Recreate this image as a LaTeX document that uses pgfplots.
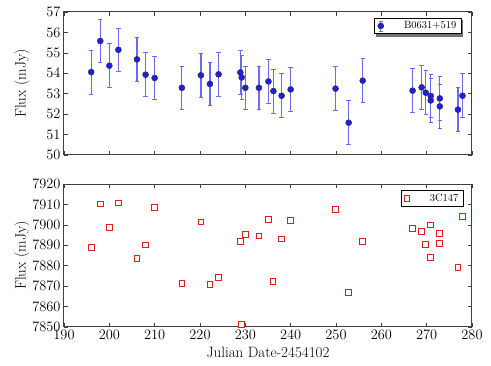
\documentclass[border=0pt]{standalone}
\usepackage{pgfplots}
\pgfplotsset{compat=1.18}
\definecolor{ptblue}{HTML}{1E1EEB}
\definecolor{barblue}{HTML}{6A6AF5}
\definecolor{sqred}{HTML}{E11E1E}

\pgfplotstableread{
x y
196.0 54.06
198.0 55.58
200.0 54.37
202.0 55.15
206.1 54.68
208.0 53.93
210.0 53.77
216.0 53.29
220.2 53.90
222.2 53.48
224.1 53.95
228.9 54.04
229.2 53.80
230.0 53.29
233.0 53.29
235.1 53.60
236.2 53.13
238.0 52.90
240.0 53.21
249.9 53.25
252.8 51.58
255.9 53.64
266.9 53.15
268.9 53.31
269.8 53.05
270.9 52.89
270.9 52.67
272.9 52.77
272.9 52.38
276.9 52.22
277.9 52.90
}\srcA

\pgfplotstableread{
x y
196.0 7888.9
198.0 7910.2
200.0 7898.8
202.0 7910.7
206.1 7883.7
208.0 7890.2
210.0 7908.6
216.0 7871.5
220.2 7901.4
222.2 7871.0
224.1 7874.1
228.9 7892.0
229.2 7851.3
230.0 7895.4
233.0 7894.6
235.1 7902.6
236.1 7872.3
238.0 7893.1
240.0 7902.3
249.9 7907.5
252.8 7867.1
255.9 7892.0
266.9 7898.4
268.9 7896.6
269.8 7890.5
270.9 7900.0
270.9 7884.0
272.9 7895.6
272.9 7891.0
276.9 7879.3
277.9 7904.0
}\srcB

\pgfplotsset{
  panel/.style={
    scale only axis,
    width=408pt, height=143pt,
    xmin=190, xmax=280,
    xtick={190,200,...,280},
    tick align=inside,
    axis line style={black!75, line width=1pt},
    major tick length=4pt,
    tick style={black!75, line width=0.6pt},
    ticklabel style={font=\fontsize{14.5}{16}\selectfont},
    every axis y label/.style={at={(axis description cs:-0.103,0.5)}, rotate=90, anchor=center,
      font=\fontsize{15}{17}\selectfont},
    legend style={font=\fontsize{10.5}{12}\selectfont, draw=black, line width=0.8pt, fill=white,
      inner xsep=3pt, inner ysep=1.5pt, row sep=0pt},
    legend cell align=left,
    clip=false,
  },
}

\begin{document}
\begin{tikzpicture}
\begin{axis}[panel,
  at={(0,0)}, anchor=south west,
  ymin=50, ymax=57,
  ytick={50,51,...,57},
  xticklabels={},
  ylabel={Flux (mJy)},
  legend style={at={(axis description cs:0.975,0.96)}, anchor=north east},
]
\fill[black!55] (axis description cs:0.7645,0.825) rectangle (axis description cs:0.979,0.947);
% error bars alone
\addplot[forget plot, draw=none, mark=none, barblue,
  error bars/.cd, y dir=both, y fixed=1.07,
  error bar style={draw=barblue, line width=1.2pt, solid},
  error mark options={draw=barblue, rotate=90, mark size=2.2pt, line width=0.8pt}]
  table[x=x, y=y] {\srcA};
\addplot[only marks, mark=*, mark size=3pt, ptblue,
  mark options={fill=ptblue, draw=black!80, line width=0.5pt},
  legend image code/.code={
    \draw[barblue, line width=1.1pt] (0.3cm,-5pt) -- (0.3cm,5pt);
    \draw[barblue, line width=0.8pt] (0.3cm-2.2pt,-5pt) -- (0.3cm+2.2pt,-5pt)
      (0.3cm-2.2pt,5pt) -- (0.3cm+2.2pt,5pt);
    \filldraw[fill=ptblue, draw=black!80, line width=0.5pt] (0.3cm,0) circle (3pt);
  }]
  table[x=x, y=y] {\srcA};
\addlegendentry{\hspace{18pt}B0631+519}
\end{axis}

\begin{axis}[panel,
  at={(0,-172pt)}, anchor=south west,
  ymin=7850, ymax=7920,
  ytick={7850,7860,...,7920},
  yticklabel style={/pgf/number format/set thousands separator={}},
  ylabel={Flux (mJy)},
  xlabel={Julian Date-2454102},
  every axis x label/.style={at={(axis description cs:0.5,-0.175)}, anchor=center,
    font=\fontsize{15}{17}\selectfont},
  legend style={at={(axis description cs:0.98,0.96)}, anchor=north east},
]
\addplot[only marks, mark=square*, mark size=2.9pt, sqred,
  mark options={draw=sqred, fill=white, line width=0.9pt, solid}]
  table[x=x, y=y] {\srcB};
\addlegendentry{\hspace{18pt}3C147}
\end{axis}

\path (-64pt,-211pt) rectangle (427pt,155pt);
\end{tikzpicture}
\end{document}
